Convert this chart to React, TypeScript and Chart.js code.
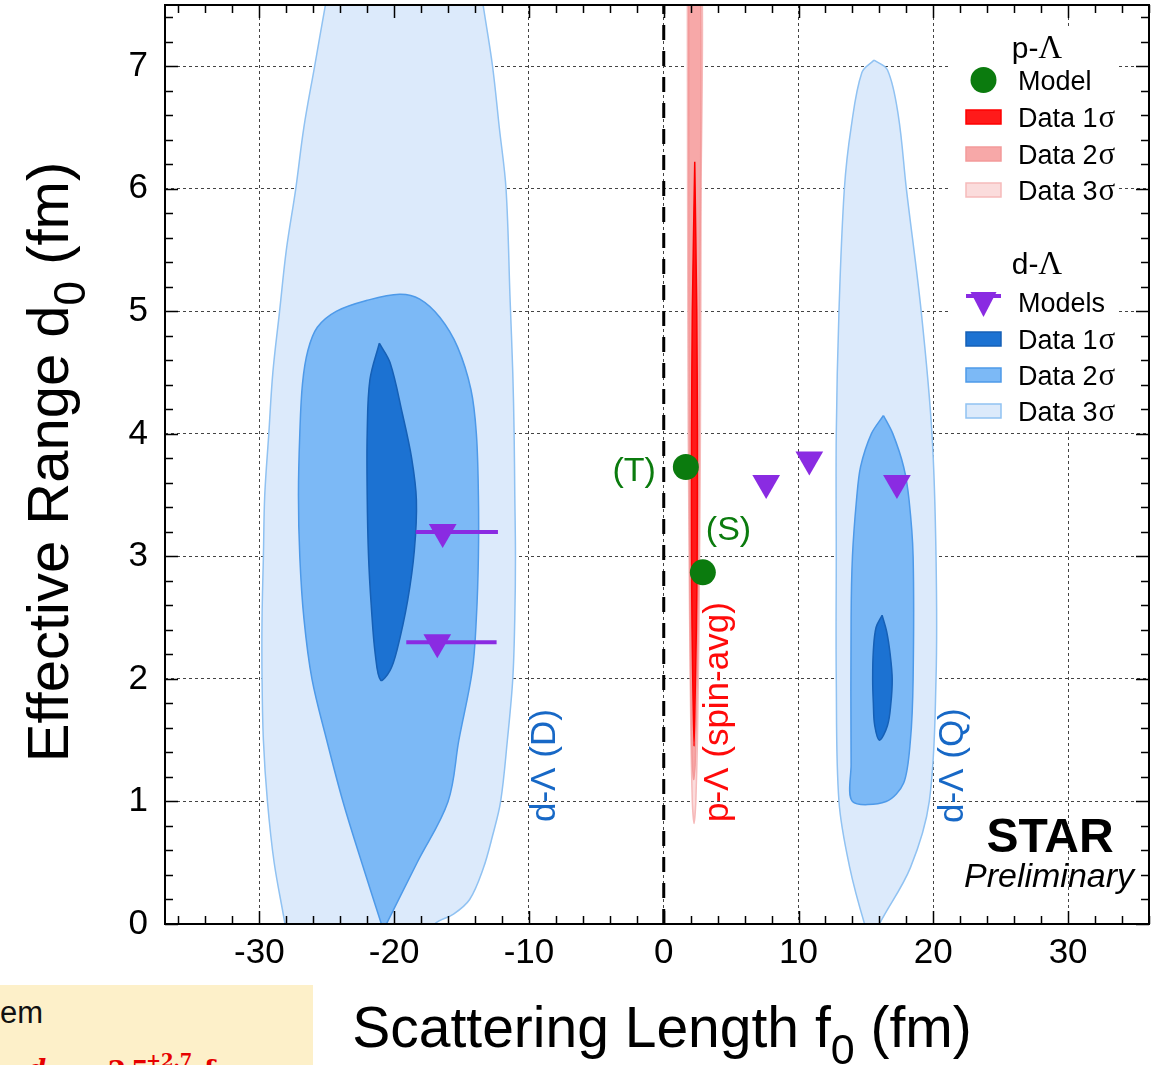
import React, { useEffect, useRef } from "react";
import { Chart, registerables } from "chart.js";

Chart.register(...registerables);

const WIDTH = 1155;
const HEIGHT = 1065;

// ---------- axes ----------
const xMin = -37;
const xMax = 36;
const xStep = 10;
const xMinorStep = 2;
const yMin = 0;
const yMax = 7.5;
const yStep = 1;
const yMinorStep = 0.2;
const xTitleParts = ["Scattering Length f", "0", " (fm)"];
const yTitleParts = ["Effective Range d", "0", " (fm)"];

// ---------- p-Λ models (green circles) ----------
const pModelLabels = ["(T)", "(S)"];
const pModelF0 = [1.64, 2.9];
const pModelD0 = [3.73, 2.87];

// ---------- d-Λ models (purple triangles) ----------
const dModelF0 = [-16.4, -16.8, 7.6, 10.8, 17.3];
const dModelD0 = [3.2, 2.3, 3.6, 3.79, 3.6];
const dModelF0Low = [-18.4, -19.1, null, null, null];
const dModelF0High = [-12.3, -12.4, null, null, null];

// ---------- d-Λ (D) contours ----------
const contourD3 = [
  [-24.6, 7.8], [-25.1, 7.5], [-25.9, 7.0], [-26.7, 6.5], [-27.3, 6.0], [-28.0, 5.5],
  [-28.5, 5.0], [-29.0, 4.5], [-29.3, 4.0], [-29.6, 3.5], [-29.7, 3.0], [-29.8, 2.5],
  [-29.8, 2.0], [-29.7, 1.5], [-29.4, 1.0], [-28.9, 0.5], [-28.1, 0.0], [-27.7, -0.3],
  [-19.0, -0.3], [-17.0, 0.0], [-15.6, 0.08], [-14.4, 0.2], [-13.4, 0.45], [-12.7, 0.72],
  [-12.1, 1.0], [-11.6, 1.5], [-11.2, 2.0], [-11.05, 2.5], [-11.0, 3.0], [-11.05, 3.5],
  [-11.1, 4.0], [-11.2, 4.5], [-11.4, 5.1], [-11.7, 6.0], [-12.2, 6.5], [-12.7, 7.0],
  [-13.4, 7.5], [-13.8, 7.8], [-24.6, 7.8],
];
const contourD2 = [
  [-20.8, -0.05], [-22.4, 0.5], [-23.8, 1.0], [-25.0, 1.5], [-26.1, 2.0], [-26.7, 2.5],
  [-27.0, 3.0], [-27.1, 3.5], [-27.0, 4.0], [-26.8, 4.41], [-26.4, 4.68], [-25.7, 4.87],
  [-24.3, 5.0], [-22.0, 5.09], [-19.6, 5.14], [-18.1, 5.1], [-16.6, 4.95], [-15.3, 4.71],
  [-14.3, 4.36], [-13.9, 4.0], [-13.75, 3.5], [-13.75, 3.0], [-13.9, 2.5], [-14.2, 2.07],
  [-15.2, 1.5], [-16.0, 1.0], [-18.3, 0.5], [-20.8, -0.05],
];
const contourD1 = [
  [-21.1, 4.74], [-20.3, 4.58], [-19.4, 4.17], [-18.7, 3.8], [-18.35, 3.46], [-18.5, 3.05],
  [-19.0, 2.64], [-19.8, 2.23], [-20.3, 2.07], [-21.0, 1.99], [-21.4, 2.2], [-21.7, 2.6],
  [-21.9, 3.0], [-22.0, 3.5], [-22.0, 4.0], [-21.8, 4.44], [-21.1, 4.74],
];

// ---------- d-Λ (Q) contours ----------
const contourQ3 = [
  [15.6, 7.05], [16.6, 6.97], [17.4, 6.6], [18.0, 6.0], [19.1, 5.0], [19.9, 4.0],
  [20.2, 3.0], [20.2, 2.0], [19.7, 1.0], [18.3, 0.46], [16.0, 0.0], [15.45, -0.15],
  [14.9, 0.0], [13.8, 0.46], [13.0, 1.0], [12.8, 2.0], [12.8, 3.0], [12.8, 4.0],
  [13.0, 5.0], [13.4, 6.0], [13.9, 6.5], [14.7, 6.95], [15.6, 7.05],
];
const contourQ2 = [
  [16.3, 4.15], [17.0, 4.0], [17.8, 3.73], [18.2, 3.46], [18.5, 3.0], [18.5, 2.0],
  [18.3, 1.5], [17.8, 1.15], [16.5, 1.0], [14.0, 1.0], [13.9, 1.3], [13.9, 2.5],
  [14.0, 3.0], [14.3, 3.46], [14.6, 3.73], [15.4, 4.0], [16.3, 4.15],
];
const contourQ1 = [
  [16.2, 2.52], [16.55, 2.38], [16.8, 2.2], [16.95, 2.0], [16.85, 1.8], [16.6, 1.62],
  [16.0, 1.5], [15.65, 1.62], [15.55, 1.8], [15.5, 2.0], [15.55, 2.23], [15.75, 2.42],
  [16.2, 2.52],
];

// ---------- p-Λ (spin-avg) contours ----------
const contourP3 = [
  [1.75, 7.8], [2.8, 7.8], [2.77, 6.0], [2.72, 4.0], [2.62, 2.5], [2.5, 1.5], [2.38, 1.0],
  [2.25, 0.82], [2.12, 1.0], [2.02, 1.5], [1.92, 2.5], [1.82, 4.0], [1.77, 6.0], [1.75, 7.8],
];
const contourP2 = [
  [1.85, 7.8], [2.7, 7.8], [2.67, 5.0], [2.58, 3.0], [2.48, 2.0], [2.33, 1.3], [2.22, 1.18],
  [2.1, 1.4], [2.0, 2.0], [1.93, 3.0], [1.87, 5.0], [1.85, 7.8],
];
const contourP1 = [
  [2.3, 6.22], [2.45, 5.0], [2.5, 4.0], [2.48, 3.0], [2.42, 2.4], [2.32, 1.8], [2.25, 1.45],
  [2.18, 1.8], [2.1, 2.4], [2.06, 3.0], [2.06, 4.0], [2.12, 5.0], [2.3, 6.22],
];

// zero reference line
const zeroLineF0 = [0, 0];
const zeroLineD0 = [0, 7.5];

// ---------- legend / annotation text ----------
const legendPLHeader = ["p-", "Λ"];
const legendDLHeader = ["d-", "Λ"];
const legendPLLabels = ["Model", "Data 1σ", "Data 2σ", "Data 3σ"];
const legendDLLabels = ["Models", "Data 1σ", "Data 2σ", "Data 3σ"];
const regionLabelD = "d-Λ (D)";
const regionLabelP = "p-Λ (spin-avg)";
const regionLabelQ = "d-Λ (Q)";
const starText = "STAR";
const prelimText = "Preliminary";

// ---------- colours ----------
const GREEN = "#0b7b0e";
const PURPLE = "#8a2be2";
const BLUE_TEXT = "#1768c6";
const RED_TEXT = "#ff0a0a";
const BLUE3 = { fill: "#dceafb", line: "#90c2f2" };
const BLUE2 = { fill: "#7cb9f6", line: "#4e9ae9" };
const BLUE1 = { fill: "#1c72d2", line: "#1660b6" };
const RED3 = { fill: "#fbdcdc", line: "#f6baba" };
const RED2 = { fill: "#f7a8a8", line: "#f39a9a" };
const RED1 = { fill: "#ff1a1a", line: "#ff0000" };

const SANS = "'Liberation Sans', Arial, sans-serif";
const SERIF = "'Liberation Serif', 'Times New Roman', serif";
const MATH = "'DejaVu Serif', serif";

const toPts = (arr: number[][]) => arr.map(([x, y]) => ({ x, y }));

function contour(label: string, pts: number[][], c: { fill: string; line: string }, order: number, tension = 0.35) {
  return {
    label,
    data: toPts(pts),
    showLine: true,
    fill: "shape",
    backgroundColor: c.fill,
    borderColor: c.line,
    borderWidth: 1.5,
    pointRadius: 0,
    pointHoverRadius: 0,
    tension,
    capBezierPoints: false,
    order,
    clip: 0,
  };
}

function buildDatasets() {
  const ds: any[] = [];
  ds.push({
    label: "zero",
    data: zeroLineF0.map((x, i) => ({ x, y: zeroLineD0[i] })),
    showLine: true,
    fill: false,
    borderColor: "#000",
    borderWidth: 3,
    borderDash: [15, 11],
    pointRadius: 0,
    tension: 0,
    order: 30,
    clip: 0,
  });
  ds.push(contour("d-Λ D 3σ", contourD3, BLUE3, 20));
  ds.push(contour("d-Λ Q 3σ", contourQ3, BLUE3, 20));
  ds.push(contour("p-Λ 3σ", contourP3, RED3, 20, 0.2));
  ds.push(contour("d-Λ D 2σ", contourD2, BLUE2, 19));
  ds.push(contour("d-Λ Q 2σ", contourQ2, BLUE2, 19, 0.3));
  ds.push(contour("p-Λ 2σ", contourP2, RED2, 19, 0.2));
  ds.push(contour("d-Λ D 1σ", contourD1, BLUE1, 18));
  ds.push(contour("d-Λ Q 1σ", contourQ1, BLUE1, 18));
  ds.push(contour("p-Λ 1σ", contourP1, RED1, 17, 0.2));
  dModelF0.forEach((_, i) => {
    const lo = dModelF0Low[i];
    const hi = dModelF0High[i];
    if (lo === null || hi === null) return;
    ds.push({
      label: "d-Λ model error " + i,
      data: [{ x: lo, y: dModelD0[i] }, { x: hi, y: dModelD0[i] }],
      showLine: true,
      fill: false,
      borderColor: PURPLE,
      borderWidth: 4,
      pointRadius: 0,
      tension: 0,
      order: 3,
      clip: 0,
    });
  });
  ds.push({
    label: "d-Λ Models",
    data: dModelF0.map((x, i) => ({ x, y: dModelD0[i] })),
    showLine: false,
    pointStyle: "triangle",
    rotation: 180,
    pointRadius: 16,
    pointHoverRadius: 16,
    backgroundColor: PURPLE,
    borderColor: PURPLE,
    borderWidth: 0,
    order: 2,
    clip: false,
  });
  ds.push({
    label: "p-Λ Model",
    data: pModelF0.map((x, i) => ({ x, y: pModelD0[i] })),
    showLine: false,
    pointStyle: "circle",
    pointRadius: 13,
    pointHoverRadius: 13,
    backgroundColor: GREEN,
    borderColor: GREEN,
    borderWidth: 0,
    order: 1,
    clip: false,
  });
  return ds;
}

function drawParts(ctx: CanvasRenderingContext2D, parts: string[], size: number, subSize: number, subDrop: number) {
  ctx.font = `${size}px ${SANS}`;
  const w0 = ctx.measureText(parts[0]).width;
  const w2 = ctx.measureText(parts[2]).width;
  ctx.font = `${subSize}px ${SANS}`;
  const w1 = ctx.measureText(parts[1]).width;
  const total = w0 + w1 + w2;
  let x = -total / 2;
  ctx.textAlign = "left";
  ctx.textBaseline = "alphabetic";
  ctx.font = `${size}px ${SANS}`;
  ctx.fillText(parts[0], x, 0);
  x += w0;
  ctx.font = `${subSize}px ${SANS}`;
  ctx.fillText(parts[1], x, subDrop);
  x += w1;
  ctx.font = `${size}px ${SANS}`;
  ctx.fillText(parts[2], x, 0);
}

function drawSigmaText(ctx: CanvasRenderingContext2D, text: string, x: number, baseline: number) {
  ctx.textAlign = "left";
  ctx.textBaseline = "alphabetic";
  if (text.endsWith("σ")) {
    const head = text.slice(0, -1);
    ctx.font = `27px ${SANS}`;
    ctx.fillText(head, x, baseline);
    const w = ctx.measureText(head).width;
    ctx.font = `31px ${SERIF}`;
    ctx.fillText("σ", x + w + 1, baseline);
  } else {
    ctx.font = `27px ${SANS}`;
    ctx.fillText(text, x, baseline);
  }
}

function drawHeader(ctx: CanvasRenderingContext2D, parts: string[], cx: number, baseline: number) {
  ctx.textAlign = "left";
  ctx.textBaseline = "alphabetic";
  ctx.font = `30px ${SANS}`;
  const w0 = ctx.measureText(parts[0]).width;
  ctx.font = `33px ${SERIF}`;
  const w1 = ctx.measureText(parts[1]).width;
  const start = cx - (w0 + w1) / 2;
  ctx.font = `30px ${SANS}`;
  ctx.fillText(parts[0], start, baseline);
  ctx.font = `33px ${SERIF}`;
  ctx.fillText(parts[1], start + w0, baseline);
}

const decorPlugin = {
  id: "decor",
  afterDraw(chart: any) {
    const { ctx, chartArea: a } = chart;
    const xs = chart.scales.x;
    const ys = chart.scales.y;
    ctx.save();
    ctx.setLineDash([]);

    // ---- legend ----
    ctx.fillStyle = "#fff";
    ctx.fillRect(950, 28, 168, 400);
    ctx.fillStyle = "#000";
    drawHeader(ctx, legendPLHeader, 1037, 58);
    drawHeader(ctx, legendDLHeader, 1037, 274);
    const symL = 966, symW = 35, textX = 1018;
    const plY = [80, 117, 154, 190];
    const dlY = [302, 339, 375, 411];
    ctx.fillStyle = GREEN;
    ctx.beginPath();
    ctx.arc(symL + symW / 2, plY[0], 13, 0, Math.PI * 2);
    ctx.fill();
    const redC = [RED1, RED2, RED3];
    const blueC = [BLUE1, BLUE2, BLUE3];
    for (let i = 0; i < 3; i++) {
      for (const [c, yy] of [[redC[i], plY[i + 1]], [blueC[i], dlY[i + 1]]] as any) {
        ctx.fillStyle = c.fill;
        ctx.fillRect(symL, yy - 7, symW, 14);
        ctx.strokeStyle = c.line;
        ctx.lineWidth = 1.5;
        ctx.strokeRect(symL, yy - 7, symW, 14);
      }
    }
    ctx.fillStyle = PURPLE;
    ctx.beginPath();
    ctx.moveTo(symL + symW / 2 - 13, dlY[0] - 10);
    ctx.lineTo(symL + symW / 2 + 13, dlY[0] - 10);
    ctx.lineTo(symL + symW / 2, dlY[0] + 15);
    ctx.closePath();
    ctx.fill();
    ctx.fillRect(symL, dlY[0] - 8, symW, 4);
    ctx.fillStyle = "#000";
    legendPLLabels.forEach((t, i) => drawSigmaText(ctx, t, textX, plY[i] + 10));
    legendDLLabels.forEach((t, i) => drawSigmaText(ctx, t, textX, dlY[i] + 10));

    // ---- model labels ----
    ctx.fillStyle = GREEN;
    ctx.font = `34px ${SANS}`;
    ctx.textBaseline = "alphabetic";
    const tx = xs.getPixelForValue(pModelF0[0]);
    const ty = ys.getPixelForValue(pModelD0[0]);
    ctx.textAlign = "right";
    ctx.fillText(pModelLabels[0], tx - 30, ty + 14);
    const sx = xs.getPixelForValue(pModelF0[1]);
    const sy = ys.getPixelForValue(pModelD0[1]);
    ctx.textAlign = "left";
    ctx.fillText(pModelLabels[1], sx + 3, sy - 32);

    // ---- rotated region labels ----
    const rot = (text: string, bx: number, by: number, color: string) => {
      ctx.save();
      ctx.translate(bx, by);
      ctx.rotate(-Math.PI / 2);
      ctx.fillStyle = color;
      ctx.font = `35px ${SANS}`;
      ctx.textAlign = "left";
      ctx.textBaseline = "alphabetic";
      ctx.fillText(text, 0, 0);
      ctx.restore();
    };
    rot(regionLabelD, 555, 822, BLUE_TEXT);
    rot(regionLabelP, 728, 822, RED_TEXT);
    rot(regionLabelQ, 963, 823, BLUE_TEXT);

    // ---- STAR Preliminary ----
    ctx.fillStyle = "#000";
    ctx.textAlign = "center";
    ctx.font = `bold 48px ${SANS}`;
    ctx.fillText(starText, 1050, 852);
    ctx.font = `italic 34px ${SANS}`;
    ctx.fillText(prelimText, 1049, 887);

    // ---- frame and ticks ----
    ctx.strokeStyle = "#000";
    ctx.lineWidth = 2;
    ctx.strokeRect(a.left, a.top, a.right - a.left, a.bottom - a.top);
    ctx.lineWidth = 1.5;
    ctx.beginPath();
    for (let v = Math.ceil(xMin / xMinorStep) * xMinorStep; v <= xMax + 1e-9; v += xMinorStep) {
      const px = Math.round(xs.getPixelForValue(v)) + 0.5;
      const major = Math.abs(v % xStep) < 1e-9;
      const len = major ? 13 : 8;
      ctx.moveTo(px, a.bottom);
      ctx.lineTo(px, a.bottom - len);
      ctx.moveTo(px, a.top);
      ctx.lineTo(px, a.top + len);
    }
    const nY = Math.round((yMax - yMin) / yMinorStep);
    for (let i = 0; i <= nY; i++) {
      const v = yMin + i * yMinorStep;
      const py = Math.round(ys.getPixelForValue(v)) + 0.5;
      const major = i % Math.round(yStep / yMinorStep) === 0;
      const len = major ? 13 : 8;
      ctx.moveTo(a.left, py);
      ctx.lineTo(a.left + len, py);
      ctx.moveTo(a.right, py);
      ctx.lineTo(a.right - len, py);
    }
    ctx.stroke();

    // ---- axis titles ----
    ctx.fillStyle = "#000";
    ctx.save();
    ctx.translate(662, 1047);
    drawParts(ctx, xTitleParts, 57, 43, 17);
    ctx.restore();
    ctx.save();
    ctx.translate(68, 462);
    ctx.rotate(-Math.PI / 2);
    drawParts(ctx, yTitleParts, 58, 44, 17);
    ctx.restore();

    ctx.restore();
  },
};

const zeroPad = (s: any) => {
  s.paddingTop = 0;
  s.paddingBottom = 0;
  s.paddingLeft = 0;
  s.paddingRight = 0;
};

const mathStyle = (left: number, top: number, size: number, italic = false): React.CSSProperties => ({
  position: "absolute",
  left,
  top,
  fontFamily: MATH,
  fontWeight: "bold",
  fontStyle: italic ? "italic" : "normal",
  fontSize: size,
  lineHeight: `${size}px`,
  color: "#e60000",
  whiteSpace: "nowrap",
});

export default function App() {
  const ref = useRef<HTMLCanvasElement | null>(null);
  useEffect(() => {
    if (!ref.current) return;
    const chart = new Chart(ref.current, {
      type: "scatter",
      data: { datasets: buildDatasets() },
      options: {
        responsive: false,
        animation: false,
        devicePixelRatio: 1,
        events: [],
        layout: { autoPadding: false, padding: { left: 0, top: 5, right: 6, bottom: 0 } },
        plugins: { legend: { display: false }, tooltip: { enabled: false } },
        scales: {
          x: {
            type: "linear",
            min: xMin,
            max: xMax,
            ticks: {
              stepSize: xStep,
              includeBounds: false,
              autoSkip: false,
              maxRotation: 0,
              padding: 8,
              color: "#000",
              font: { family: SANS, size: 35 },
            },
            grid: { color: "#444", lineWidth: 1, drawTicks: false },
            border: { display: false, dash: [3, 3] },
            afterFit: (s: any) => {
              s.height = HEIGHT - 924;
              zeroPad(s);
            },
          },
          y: {
            type: "linear",
            min: yMin,
            max: yMax,
            ticks: {
              stepSize: yStep,
              includeBounds: false,
              autoSkip: false,
              padding: 17,
              color: "#000",
              font: { family: SANS, size: 35 },
            },
            grid: { color: "#444", lineWidth: 1, drawTicks: false },
            border: { display: false, dash: [3, 3] },
            afterFit: (s: any) => {
              s.width = 165;
              zeroPad(s);
            },
          },
        },
      } as any,
      plugins: [decorPlugin as any],
    } as any);
    return () => chart.destroy();
  }, []);

  return (
    <div
      style={{
        position: "fixed",
        left: 0,
        top: 0,
        width: WIDTH,
        height: HEIGHT,
        overflow: "hidden",
        background: "#fff",
      }}
    >
      <canvas
        ref={ref}
        width={WIDTH}
        height={HEIGHT}
        style={{ position: "absolute", left: 0, top: 0, width: WIDTH, height: HEIGHT }}
      />
      <div
        style={{
          position: "absolute",
          left: 0,
          top: 985,
          width: 313,
          height: 80,
          background: "#fdf0c9",
          overflow: "hidden",
        }}
      >
        <div style={{ position: "absolute", left: 0, top: 12, fontFamily: SANS, fontSize: 31, lineHeight: "31px", color: "#111", whiteSpace: "nowrap" }}>
          em
        </div>
        <div style={mathStyle(28, 71, 26, true)}>d</div>
        <div style={mathStyle(72, 72, 26)}>=</div>
        <div style={mathStyle(108, 72, 26)}>2.</div>
        <div style={mathStyle(131, 72, 26)}>5</div>
        <div style={mathStyle(146, 67, 18)}>+2.7</div>
        <div style={mathStyle(204, 72, 26)}>fm</div>
      </div>
    </div>
  );
}
